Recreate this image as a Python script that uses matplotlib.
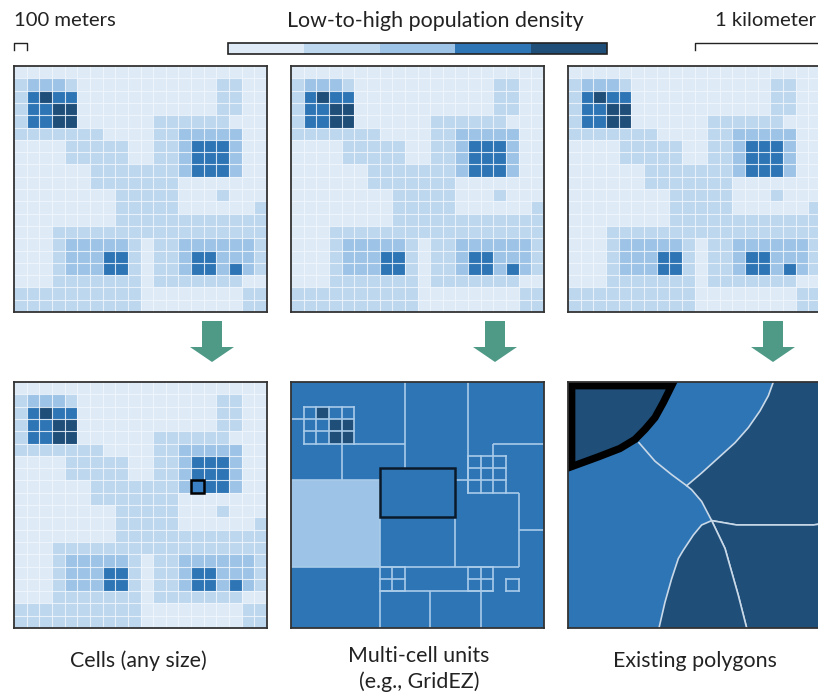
import matplotlib
matplotlib.use('Agg')
import matplotlib.pyplot as plt
from matplotlib.colors import ListedColormap
from matplotlib.patches import Rectangle, Polygon
import numpy as np

plt.rcParams['font.family'] = ['Lato', 'DejaVu Sans']

W, H = 818, 692

level_colors = ['#deebf7', '#bdd7ee', '#9dc3e6', '#2e75b6', '#1f4e79']

# density level per cell, rows top to bottom
density_rows = [
    '00000000000000000000',
    '12221000000000001100',
    '13433000000000001100',
    '13344000000000001100',
    '13344000000111111000',
    '11111110000112222200',
    '00001111100112333200',
    '00001111100112333200',
    '00000011111112333200',
    '00000011111110000000',
    '00000000111110001000',
    '00000000111110000001',
    '00000000111111111111',
    '00011111111111111111',
    '00012222210112222221',
    '00012223310112332221',
    '00012223310112332321',
    '00011111110111111100',
    '11111111110000000011',
    '11111111110000000011',
]
density = np.array([[int(c) for c in r] for r in density_rows])

# multi-cell panel, in grid units
multi_dark = [(2, 2), (3, 3), (4, 3), (3, 4), (4, 4)]
multi_light = (0, 7, 8, 15)
multi_box = (7, 13, 7, 11)
# small grids: col0, col1, row0, row1
multi_grids = [(1, 5, 2, 5), (14, 17, 6, 9), (7, 9, 15, 17), (14, 16, 15, 17), (17, 18, 16, 17)]
# x, y0, y1
multi_vert = [(9, 0, 7), (14, 0, 9), (4, 5, 8), (16, 5, 6), (18, 9, 15), (13, 11, 15),
              (7, 11, 15), (7, 17, 20), (11, 17, 20), (15, 17, 20), (7, 8, 11)]
# y, x0, x1
multi_horiz = [(3, 0, 1), (5, 5, 9), (5, 16, 20), (8, 0, 7), (8, 13, 14), (9, 17, 18),
               (12, 18, 20), (15, 0, 18), (17, 7, 16)]

# polygon panel outlines
poly_xlim = (39, 801)
poly_ylim = (757, 24)
poly_corner = [(50, 35), (350, 35), (325, 85), (300, 130), (270, 165), (240, 195),
               (195, 222), (130, 247), (50, 276)]
poly_right_top = [(655, 24), (640, 65), (615, 110), (580, 160), (540, 205), (490, 250),
                  (440, 295), (395, 333), (410, 345), (440, 380), (470, 437), (545, 450),
                  (775, 450), (810, 445), (810, 10), (655, 10)]
poly_bottom = [(470, 437), (440, 450), (415, 480), (385, 525), (370, 550), (350, 610),
               (330, 680), (312, 757), (312, 770), (575, 770), (575, 757), (550, 660), (510, 520)]
poly_bottom_right = [(470, 437), (545, 450), (775, 450), (810, 445), (810, 770), (575, 770),
                     (575, 757), (550, 660), (510, 520)]
poly_edge = [(252, 205), (300, 260), (350, 300), (395, 333)]

fig = plt.figure(figsize=(W / 100, H / 100), dpi=100)
bg = fig.add_axes([0, 0, 1, 1])
bg.set_xlim(0, W)
bg.set_ylim(H, 0)
bg.axis('off')


def panel(x0, y0, w=253, h=246):
    ax = fig.add_axes([x0 / W, 1 - (y0 + h) / H, w / W, h / H])
    ax.set_xticks([])
    ax.set_yticks([])
    for s in ax.spines.values():
        s.set_color('#333333')
        s.set_linewidth(1.3)
        s.set_zorder(10)
    return ax


def cells(ax):
    cmap = ListedColormap(level_colors)
    ax.pcolormesh(density, cmap=cmap, vmin=-0.5, vmax=4.5)
    # thin light lines between the cells
    for i in range(1, 20):
        ax.axvline(i, color='#f0f6fc', lw=0.8, alpha=0.85)
        ax.axhline(i, color='#f0f6fc', lw=0.8, alpha=0.85)
    ax.set_xlim(0, 20)
    ax.set_ylim(20, 0)


grid_xs = [14, 291, 568]
for x in grid_xs:
    cells(panel(x, 66))

# bottom left
ax = panel(14, 382)
cells(ax)
ax.add_patch(Rectangle((14, 8), 1, 1, fc='#3a80c2', ec='black', lw=1.8, zorder=5))

# bottom middle
ax = panel(291, 382)
ax.set_facecolor(level_colors[3])
ax.set_xlim(0, 20)
ax.set_ylim(20, 0)
x0, x1, y0, y1 = multi_light
ax.add_patch(Rectangle((x0, y0), x1 - x0, y1 - y0, fc=level_colors[2], ec='none'))
for c, r in multi_dark:
    ax.add_patch(Rectangle((c, r), 1, 1, fc=level_colors[4], ec='none'))
line_c = '#a9cbe9'
for x, a, b in multi_vert:
    ax.plot([x, x], [a, b], color=line_c, lw=1.2, solid_capstyle='butt')
for y, a, b in multi_horiz:
    ax.plot([a, b], [y, y], color=line_c, lw=1.2, solid_capstyle='butt')
for c0, c1, r0, r1 in multi_grids:
    for c in range(c0, c1 + 1):
        ax.plot([c, c], [r0, r1], color=line_c, lw=1.2, solid_capstyle='projecting')
    for r in range(r0, r1 + 1):
        ax.plot([c0, c1], [r, r], color=line_c, lw=1.2, solid_capstyle='projecting')
x0, x1, y0, y1 = multi_box
ax.add_patch(Rectangle((x0, y0), x1 - x0, y1 - y0, fc='none', ec='#0b1a2b', lw=1.8, zorder=6))

# bottom right
ax = panel(568, 382, w=254)
ax.set_facecolor(level_colors[3])
ax.set_xlim(*poly_xlim)
ax.set_ylim(*poly_ylim)
edge_c = '#c9d9e8'
ax.add_patch(Polygon(poly_right_top, closed=True, fc=level_colors[4], ec=edge_c, lw=1.2))
ax.add_patch(Polygon(poly_bottom_right, closed=True, fc=level_colors[4], ec=edge_c, lw=1.2))
ax.add_patch(Polygon(poly_bottom, closed=True, fc=level_colors[4], ec=edge_c, lw=1.2))
ax.plot(*zip(*poly_edge), color=edge_c, lw=1.2)
ax.add_patch(Polygon(poly_corner, closed=True, fc=level_colors[4], ec='black', lw=5.3, zorder=5))

# legend bar
bar_x = np.linspace(228, 607, 6)
for i, col in enumerate(level_colors):
    bg.add_patch(Rectangle((bar_x[i], 43), bar_x[i + 1] - bar_x[i], 11, fc=col, ec='none'))
bg.add_patch(Rectangle((228, 43), 379, 11, fc='none', ec='#222222', lw=1.2))

# scale brackets
bg.plot([14, 14, 27, 27], [50, 43, 43, 50], color='#222222', lw=1)
bg.plot([695, 695, 818], [50, 43, 43], color='#222222', lw=1)

# arrows
arrow_c = '#4f9a87'
for cx in [212, 495, 773]:
    bg.add_patch(Polygon([(cx - 10, 321), (cx + 10, 321), (cx + 10, 347), (cx + 22, 347),
                          (cx, 362), (cx - 22, 347), (cx - 10, 347)], closed=True, fc=arrow_c, ec='none'))

fs = 15.4
fs_scale = 14.6
tc = '#222222'
bg.text(14, 21, '100 meters', fontsize=fs_scale, color=tc, ha='left', va='center')
bg.text(435.5, 21, 'Low-to-high population density', fontsize=fs, color=tc, ha='center', va='center')
bg.text(816, 21, '1 kilometer', fontsize=fs_scale, color=tc, ha='right', va='center')
bg.text(138, 661, 'Cells (any size)', fontsize=fs, color=tc, ha='center', va='center')
bg.text(419, 656, 'Multi-cell units', fontsize=fs, color=tc, ha='center', va='center')
bg.text(419, 682, '(e.g., GridEZ)', fontsize=fs, color=tc, ha='center', va='center')
bg.text(695, 661, 'Existing polygons', fontsize=fs, color=tc, ha='center', va='center')

fig.savefig('out.png', dpi=100)
